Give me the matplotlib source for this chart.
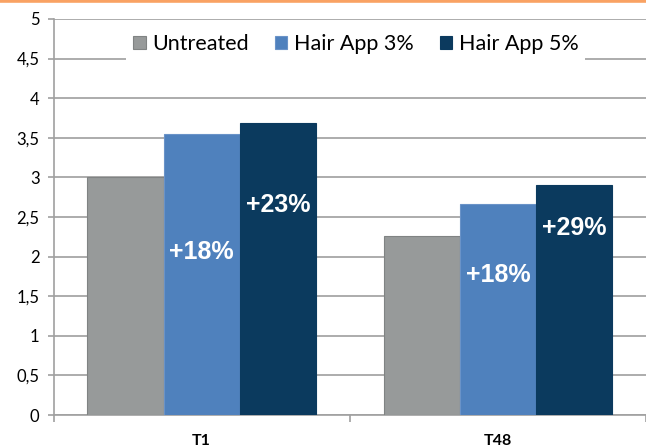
import matplotlib
matplotlib.use('Agg')
import numpy as np
import matplotlib.pyplot as plt
from matplotlib.lines import Line2D

matplotlib.rcParams['font.family'] = ['Lato', 'DejaVu Sans']

categories = ['T1', 'T48']
series = ['Untreated', 'Hair App 3%', 'Hair App 5%']
untreated = [3.0, 2.26]
hair3 = [3.55, 2.66]
hair5 = [3.69, 2.90]
colors = ['#979a9a', '#4f81bd', '#0b3a5e']
edges = ['#808383', '#6a93c8', '#0b3a5e']

# percent labels: (category index, series index, text, y position)
labels = [(0, 1, '+18%', 2.06), (0, 2, '+23%', 2.65),
          (1, 1, '+18%', 1.77), (1, 2, '+29%', 2.36)]

fig = plt.figure(figsize=(6.46, 4.48), dpi=100)
ax = fig.add_axes([53.5 / 646, 1 - 415 / 448, 1 - 53.5 / 646, 396 / 448])

x = np.arange(len(categories))
w = 0.257
for i, (vals, name) in enumerate(zip([untreated, hair3, hair5], series)):
    ax.bar(x + (i - 1) * w, vals, w, color=colors[i], edgecolor=edges[i],
           linewidth=0.8, label=name, zorder=3)

for ci, si, txt, ypos in labels:
    ax.text(x[ci] + (si - 1) * w, ypos, txt, color='white', fontsize=18,
            fontweight='bold', family='Liberation Sans', ha='center',
            va='center', zorder=4)

ax.set_xlim(-0.5, 1.5)
ax.set_ylim(0, 5)
ax.set_yticks(np.arange(0, 5.01, 0.5))
ax.set_yticklabels(['0', '0,5', '1', '1,5', '2', '2,5', '3', '3,5', '4', '4,5', '5'],
                   fontsize=12)
ax.set_xticks(x)
ax.set_xticklabels(categories, fontsize=11.5, fontweight='bold')
ax.set_xticks([-0.5, 0.5, 1.5], minor=True)
ax.tick_params(axis='x', which='major', length=0, pad=14)
ax.tick_params(axis='x', which='minor', length=5, width=1.2, color='#a0a0a0')
ax.tick_params(axis='y', length=4, width=1.2, color='#a0a0a0', pad=6)
ax.grid(axis='y', color='#a6a6a6', linewidth=1.3, zorder=0)

for s in ['top', 'right']:
    ax.spines[s].set_visible(False)
for s in ['left', 'bottom']:
    ax.spines[s].set_color('#a0a0a0')
    ax.spines[s].set_linewidth(1.2)

leg = ax.legend(loc='center', bbox_to_anchor=(0.51, 0.937), ncol=3,
                fontsize=15.5, frameon=True, fancybox=False, edgecolor='none',
                facecolor='white', framealpha=1, handlelength=0.6,
                handleheight=0.6, handletextpad=0.3, columnspacing=1.2,
                borderpad=0.3)
leg.set_zorder(5)

# orange rule at the very top
fig.add_artist(Line2D([0, 1], [1 - 1.5 / 448, 1 - 1.5 / 448], color='#f9a263',
                      linewidth=2.6, transform=fig.transFigure))

plt.savefig('out.png', dpi=100)
